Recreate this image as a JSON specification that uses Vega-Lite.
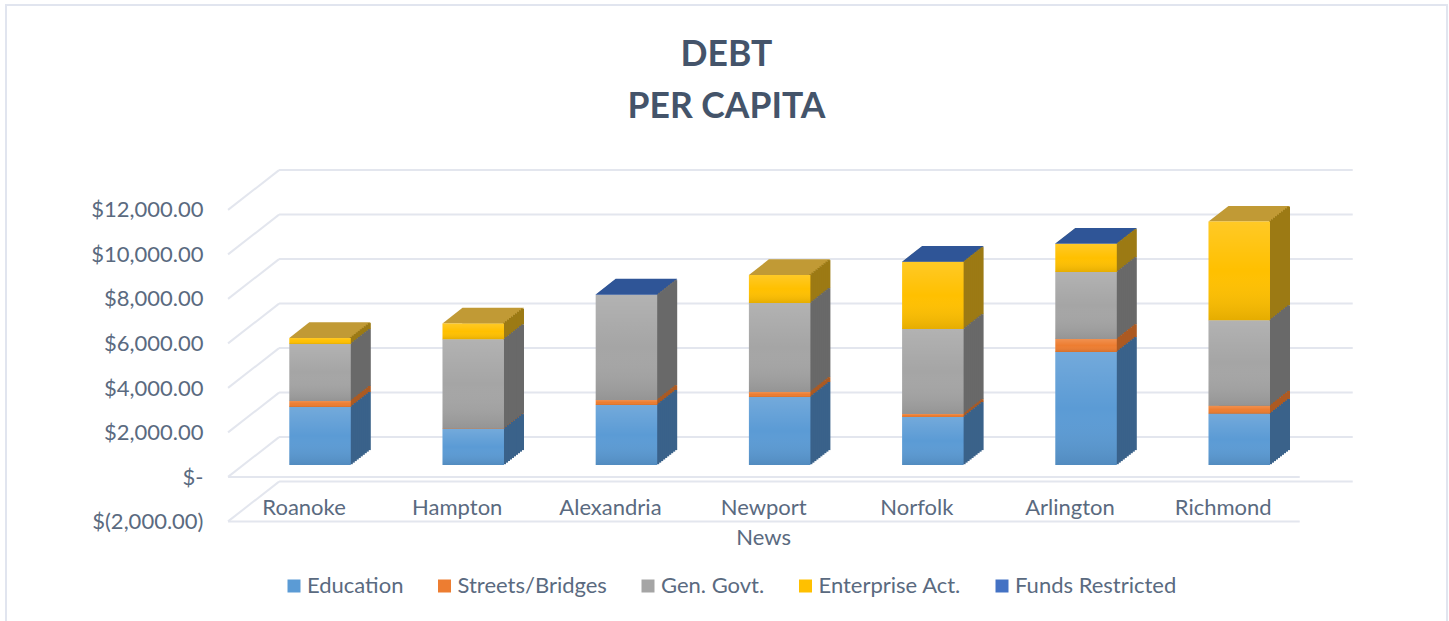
{
"$schema":"https://vega.github.io/schema/vega-lite/v6.json",
"autosize":{"type":"none"},
"padding":{"left":6,"top":5,"right":2,"bottom":-1},
"width":1441,"height":617,
"background":"#ffffff",
"view":{"stroke":"#e1e5ef","strokeWidth":2,"fill":"#ffffff"},
"title":{"text":["DEBT","PER CAPITA"],"anchor":"middle","frame":"group","font":"Lato","fontWeight":"bold","fontSize":35.5,"color":"#44546a","lineHeight":52,"baseline":"top","offset":-120,"dy":0},
"config":{"font":"Lato"},
"datasets":{
"debt":[
{"city":"Roanoke","seg":"Education","n":1,"value":2610},{"city":"Roanoke","seg":"Streets/Bridges","n":2,"value":270},{"city":"Roanoke","seg":"Gen. Govt.","n":3,"value":2560},{"city":"Roanoke","seg":"Enterprise Act.","n":4,"value":270},
{"city":"Hampton","seg":"Education","n":1,"value":1620},{"city":"Hampton","seg":"Streets/Bridges","n":2,"value":20},{"city":"Hampton","seg":"Gen. Govt.","n":3,"value":4010},{"city":"Hampton","seg":"Enterprise Act.","n":4,"value":710},
{"city":"Alexandria","seg":"Education","n":1,"value":2700},{"city":"Alexandria","seg":"Streets/Bridges","n":2,"value":220},{"city":"Alexandria","seg":"Gen. Govt.","n":3,"value":4720},{"city":"Alexandria","seg":"Funds Restricted","n":5,"value":20},
{"city":"Newport News","seg":"Education","n":1,"value":3060},{"city":"Newport News","seg":"Streets/Bridges","n":2,"value":220},{"city":"Newport News","seg":"Gen. Govt.","n":3,"value":4000},{"city":"Newport News","seg":"Enterprise Act.","n":4,"value":1260},
{"city":"Norfolk","seg":"Education","n":1,"value":2160},{"city":"Norfolk","seg":"Streets/Bridges","n":2,"value":130},{"city":"Norfolk","seg":"Gen. Govt.","n":3,"value":3820},{"city":"Norfolk","seg":"Enterprise Act.","n":4,"value":3010},{"city":"Norfolk","seg":"Funds Restricted","n":5,"value":20},
{"city":"Arlington","seg":"Education","n":1,"value":5080},{"city":"Arlington","seg":"Streets/Bridges","n":2,"value":580},{"city":"Arlington","seg":"Gen. Govt.","n":3,"value":3010},{"city":"Arlington","seg":"Enterprise Act.","n":4,"value":1260},{"city":"Arlington","seg":"Funds Restricted","n":5,"value":20},
{"city":"Richmond","seg":"Education","n":1,"value":2300},{"city":"Richmond","seg":"Streets/Bridges","n":2,"value":360},{"city":"Richmond","seg":"Gen. Govt.","n":3,"value":3850},{"city":"Richmond","seg":"Enterprise Act.","n":4,"value":4430}
],
"grid":[{"v":-2000},{"v":0},{"v":2000},{"v":4000},{"v":6000},{"v":8000},{"v":10000},{"v":12000}],
"floor":[{"v":-2000},{"v":0}]
},
"layer":[
{"data":{"name":"grid"},
 "mark":{"type":"rule","color":"#e3e6ee","strokeWidth":2,"xOffset":-41,"x2Offset":113.5,"yOffset":-28},
 "encoding":{
  "x":{"datum":"Roanoke","type":"nominal","scale":{"domain":["Roanoke","Hampton","Alexandria","Newport News","Norfolk","Arlington","Richmond"],"paddingInner":0.5986,"paddingOuter":0,"range":[283.3,1264]},
   "title":null,"axis":{"orient":"bottom","offset":-125,"domain":false,"ticks":false,"grid":false,"title":null,"labelAngle":0,"labelFontSize":22,"labelColor":"#5a6a80","labelFont":"Lato","labelOffset":-16,"labelPadding":0,"labelBaseline":"top","labelLineHeight":30,"labelExpr":"split(datum.label,' ')","labelAlign":"center"}},
  "x2":{"datum":"Richmond"},
  "y":{"field":"v","type":"quantitative","scale":{"domain":[-7056,20674],"nice":false,"zero":false},
   "title":null,"axis":{"orient":"left","offset":-197,"domain":false,"ticks":false,"grid":false,"title":null,"values":[-2000,0,2000,4000,6000,8000,10000,12000],"labelFontSize":22,"labelColor":"#5a6a80","labelFont":"Lato","labelPadding":0,"labelOffset":12,"labelExpr":"datum.value==0?'$-\u00a0\u00a0\u00a0':datum.value<0?'$(2,000.00)':'$'+format(datum.value,',.2f')"}}
 }},
{"data":{"name":"floor"},
 "mark":{"type":"rule","color":"#e3e6ee","strokeWidth":2,"xOffset":-92,"x2Offset":60.5,"yOffset":12},
 "encoding":{"x":{"datum":"Roanoke","type":"nominal","title":null},"x2":{"datum":"Richmond"},"y":{"field":"v","type":"quantitative","title":null}}},
{"data":{"name":"grid"},
 "mark":{"type":"point","shape":"M-1,0.78L1,-0.78","size":2601,"stroke":"#e3e6ee","strokeWidth":2,"filled":false,"opacity":1,"xOffset":-66.5,"yOffset":-8},
 "encoding":{"x":{"datum":"Roanoke","type":"nominal","title":null},"y":{"field":"v","type":"quantitative","title":null}}},
{"data":{"name":"debt"},
 "transform":[{"stack":"value","groupby":["city"],"sort":[{"field":"n","order":"ascending"}],"as":["y0","y1"]}],
 "layer":[
 {"mark":{"type":"point","shape":"M-0.615,0L0.615,0L1.015,-0.314L-0.215,-0.314Z","size":10000,"filled":true,"opacity":1,"strokeWidth":0},
  "encoding":{"x":{"field":"city","type":"nominal","title":null},"y":{"field":"y1","type":"quantitative","title":null},
   "fill":{"field":"seg","type":"nominal","legend":null,"scale":{"domain":["Education","Streets/Bridges","Gen. Govt.","Enterprise Act.","Funds Restricted"],"range":["#3f6f9c","#b05c20","#777777","#c19a35","#2f5597"]}},
   "order":{"field":"n","type":"quantitative"}}},
 {"encoding":{"x":{"field":"city","type":"nominal","title":null},"y":{"field":"y1","type":"quantitative","title":null},"y2":{"field":"y0"},
   "fill":{"field":"seg","type":"nominal","legend":null,"scale":{"domain":["Education","Streets/Bridges","Gen. Govt.","Enterprise Act.","Funds Restricted"],"range":["#3a628a","#ac5a22","#696969","#9c7a14","#2f5597"]}}},
  "layer":[
   {"mark":{"type":"bar","width":3,"xOffset":31.25,"yOffset":-0.8,"y2Offset":-0.8}},
   {"mark":{"type":"bar","width":3,"xOffset":33.25,"yOffset":-2.35,"y2Offset":-2.35}},
   {"mark":{"type":"bar","width":3,"xOffset":35.25,"yOffset":-3.9,"y2Offset":-3.9}},
   {"mark":{"type":"bar","width":3,"xOffset":37.25,"yOffset":-5.5,"y2Offset":-5.5}},
   {"mark":{"type":"bar","width":3,"xOffset":39.25,"yOffset":-7.05,"y2Offset":-7.05}},
   {"mark":{"type":"bar","width":3,"xOffset":41.25,"yOffset":-8.65,"y2Offset":-8.65}},
   {"mark":{"type":"bar","width":3,"xOffset":43.25,"yOffset":-10.2,"y2Offset":-10.2}},
   {"mark":{"type":"bar","width":3,"xOffset":45.25,"yOffset":-11.8,"y2Offset":-11.8}},
   {"mark":{"type":"bar","width":3,"xOffset":47.25,"yOffset":-13.35,"y2Offset":-13.35}},
   {"mark":{"type":"bar","width":3,"xOffset":49.25,"yOffset":-14.9,"y2Offset":-14.9}}
  ]},
 {"mark":{"type":"bar"},
  "encoding":{"x":{"field":"city","type":"nominal","title":null},"y":{"field":"y1","type":"quantitative","title":null},"y2":{"field":"y0"},
   "color":{"field":"seg","type":"nominal","scale":{"domain":["Education","Streets/Bridges","Gen. Govt.","Enterprise Act.","Funds Restricted"],"range":["#5b9bd5","#ed7d31","#a5a5a5","#ffc000","#4472c4"]},
    "legend":{"title":null,"orient":"none","legendX":277,"legendY":570,"direction":"horizontal","columns":5,"symbolType":"square","symbolSize":169,"symbolStrokeWidth":0,"labelFontSize":22,"labelColor":"#5a6a80","labelFont":"Lato","columnPadding":29.5,"labelOffset":2,"labelLimit":400}}
  }},
 {"mark":{"type":"bar","fill":{"gradient":"linear","x1":0,"y1":0,"x2":0,"y2":1,"stops":[{"offset":0,"color":"rgba(255,255,255,0.15)"},{"offset":0.5,"color":"rgba(255,255,255,0)"},{"offset":1,"color":"rgba(0,0,0,0.1)"}]}},
  "encoding":{"x":{"field":"city","type":"nominal","title":null},"y":{"field":"y1","type":"quantitative","title":null},"y2":{"field":"y0"}}}
 ],
 "resolve":{"scale":{"fill":"independent"}}
}
]
}
